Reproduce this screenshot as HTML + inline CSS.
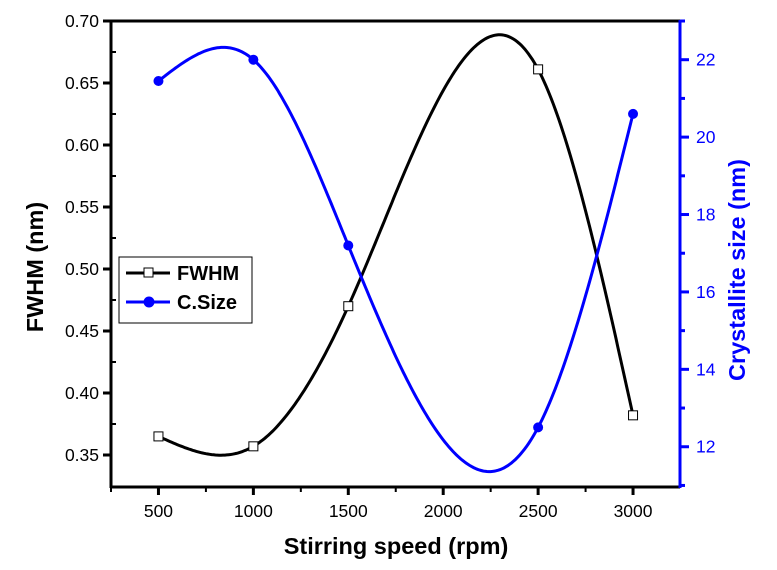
<!DOCTYPE html>
<html><head><meta charset="utf-8"><style>
body{margin:0;background:#fff;}
svg{display:block;font-family:"Liberation Sans",Arial,sans-serif;}
</style></head><body>
<svg id="chart" width="777" height="570" viewBox="0 0 777 570" xmlns="http://www.w3.org/2000/svg">
<g id="grid"></g>
<g id="curves"></g>
<g id="frame"></g>
<g id="marks"></g>
<g id="texts"></g>
<g>
<rect x="119" y="257" width="133" height="66" fill="#fff" stroke="#000" stroke-width="1"/>
<g>
<line x1="126" y1="273" x2="170" y2="273" stroke="#000" stroke-width="3"/>
<rect x="144" y="268" width="9" height="9" fill="#fff" stroke="#000" stroke-width="1"/>
<text x="177" y="280" font-size="20" font-weight="bold">FWHM</text></g>
<g>
<line x1="126" y1="302" x2="170" y2="302" stroke="#00f" stroke-width="3"/>
<circle cx="149" cy="302" r="5.5" fill="#00f"/>
<text x="177" y="309" font-size="20" font-weight="bold">C.Size</text></g>
</g>
</svg>
<script>
const categories=[500,1000,1500,2500,3000];
const fwhmValues=[0.365,0.357,0.470,0.661,0.382];
const sizeValues=[21.45,22.0,17.2,12.5,20.6];
const xTicks=[500,1000,1500,2000,2500,3000];
const yLeftTicks=[0.35,0.40,0.45,0.50,0.55,0.60,0.65,0.70];
const yRightTicks=[12,14,16,18,20,22];

const L=111,R=680,T=21,B=487;
const X0=250,X1=3247.4, YL0=0.3242,YL1=0.70, YR0=10.96,YR1=23;
const sx=v=>L+(v-X0)/(X1-X0)*(R-L);
const syl=v=>B-(v-YL0)/(YL1-YL0)*(B-T);
const syr=v=>B-(v-YR0)/(YR1-YR0)*(B-T);
const NS="http://www.w3.org/2000/svg";
function mk(p,tag,at){const e=document.createElementNS(NS,tag);for(const k in at)e.setAttribute(k,at[k]);document.getElementById(p).appendChild(e);return e;}

function spline(xs,ys){
 const n=xs.length,h=[],al=[],l=[1],mu=[0],z=[0],c=new Array(n).fill(0),b=[],d=[];
 for(let i=0;i<n-1;i++)h.push(xs[i+1]-xs[i]);
 for(let i=1;i<n-1;i++)al[i]=3/h[i]*(ys[i+1]-ys[i])-3/h[i-1]*(ys[i]-ys[i-1]);
 for(let i=1;i<n-1;i++){l[i]=2*(xs[i+1]-xs[i-1])-h[i-1]*mu[i-1];mu[i]=h[i]/l[i];z[i]=(al[i]-h[i-1]*z[i-1])/l[i];}
 l[n-1]=1;z[n-1]=0;
 for(let j=n-2;j>=0;j--){c[j]=z[j]-mu[j]*c[j+1];b[j]=(ys[j+1]-ys[j])/h[j]-h[j]*(c[j+1]+2*c[j])/3;d[j]=(c[j+1]-c[j])/(3*h[j]);}
 return x=>{let j=0;while(j<n-2&&x>xs[j+1])j++;const t=x-xs[j];return ys[j]+b[j]*t+c[j]*t*t+d[j]*t*t*t;};
}
function curve(vals,sy,color,name){
 const f=spline(categories,vals);let p="";
 for(let x=categories[0];x<=categories[categories.length-1];x+=10){p+=(p?"L":"M")+sx(x).toFixed(1)+","+sy(f(x)).toFixed(1);}
 const e=mk("curves","path",{d:p,fill:"none",stroke:color,"stroke-width":3});
 
 
}
curve(fwhmValues,syl,"#000","fwhm-line");
curve(sizeValues,syr,"#00f","csize-line");

let e;
e=mk("frame","line",{x1:L,y1:T,x2:L,y2:B+1,stroke:"#000","stroke-width":3});

e=mk("frame","line",{x1:L,y1:B,x2:R,y2:B,stroke:"#000","stroke-width":3});

e=mk("frame","line",{x1:L,y1:T,x2:R,y2:T,stroke:"#000","stroke-width":3});

e=mk("frame","line",{x1:R,y1:T-1,x2:R,y2:B+1,stroke:"#00f","stroke-width":3});


xTicks.forEach(v=>{
 mk("frame","line",{x1:sx(v),y1:B,x2:sx(v),y2:B+8,stroke:"#000","stroke-width":3});
 mk("frame","line",{x1:sx(v-250),y1:B,x2:sx(v-250),y2:B+5,stroke:"#000","stroke-width":2});
 e=mk("texts","text",{x:sx(v),y:B+30,"font-size":17.5,"text-anchor":"middle"});e.textContent=v;
 
});
yLeftTicks.forEach(v=>{
 mk("frame","line",{x1:L-8,y1:syl(v),x2:L,y2:syl(v),stroke:"#000","stroke-width":3});
 if(v<0.7)mk("frame","line",{x1:L,y1:syl(v+0.025),x2:L+5,y2:syl(v+0.025),stroke:"#000","stroke-width":2});
 e=mk("texts","text",{x:L-12,y:syl(v)+6,"font-size":17.5,"text-anchor":"end"});e.textContent=v.toFixed(2);
 
});
yRightTicks.forEach(v=>{
 mk("frame","line",{x1:R,y1:syr(v),x2:R+9,y2:syr(v),stroke:"#00f","stroke-width":3});
 mk("frame","line",{x1:R,y1:syr(v+1),x2:R+5,y2:syr(v+1),stroke:"#00f","stroke-width":3});
 e=mk("texts","text",{x:R+16,y:syr(v)+6,"font-size":17.5,fill:"#00f"});e.textContent=v;
 
});
mk("frame","line",{x1:R,y1:syr(11),x2:R+5,y2:syr(11),stroke:"#00f","stroke-width":3});

categories.forEach((c,i)=>{
 e=mk("marks","rect",{x:sx(c)-4.5,y:syl(fwhmValues[i])-4.5,width:9,height:9,fill:"#fff",stroke:"#000","stroke-width":1});
 
 e=mk("marks","circle",{cx:sx(c),cy:syr(sizeValues[i]),r:5,fill:"#00f"});
 
});

e=mk("texts","text",{x:396,y:554,"font-size":23.5,"font-weight":"bold","text-anchor":"middle"});e.textContent="Stirring speed (rpm)";

e=mk("texts","text",{x:0,y:0,"font-size":23.5,"font-weight":"bold","text-anchor":"middle",transform:"translate(43,267) rotate(-90)"});e.textContent="FWHM (nm)";

e=mk("texts","text",{x:0,y:0,"font-size":23.5,"font-weight":"bold","text-anchor":"middle",fill:"#00f",transform:"translate(745,270) rotate(-90)"});e.textContent="Crystallite size (nm)";

</script>
</body></html>
